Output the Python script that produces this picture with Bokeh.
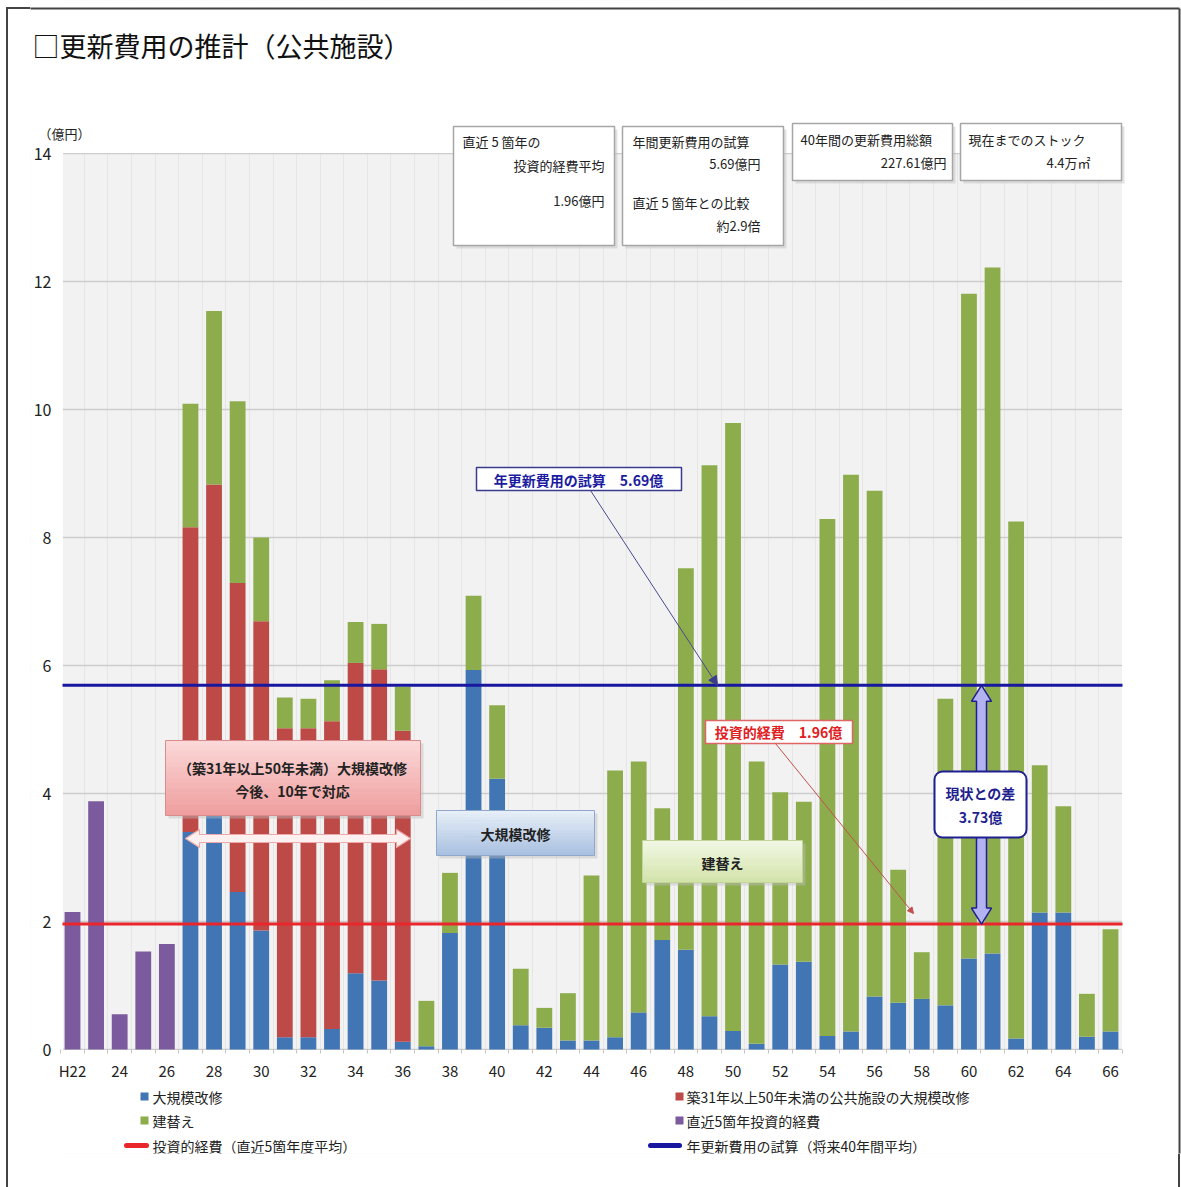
from bokeh.plotting import figure
from bokeh.models import ColumnDataSource, FixedTicker, Label, Arrow, NormalHead
from bokeh.embed import file_html
from bokeh.resources import INLINE

FONT = "Noto Sans CJK JP"

# ---- data (億円) -------------------------------------------------------
# 平成22年度〜66年度
years = list(range(22, 67))
tick_years = list(range(22, 67, 2))
tick_overrides = {22: "H22"}
y_ticks = list(range(0, 15, 2))

# 大規模改修
major_repair = [0, 0, 0, 0, 0,
                3.40, 3.75, 2.46, 1.86, 0.19, 0.19, 0.32, 1.19, 1.08, 0.12,
                0.05, 1.82, 5.93, 4.23, 0.38, 0.34, 0.14, 0.14, 0.19, 0.58,
                1.71, 1.56, 0.52, 0.29, 0.09, 1.33, 1.37, 0.21, 0.28, 0.83,
                0.73, 0.79, 0.69, 1.42, 1.50, 0.17, 2.14, 2.14, 0.20, 0.28]
# 築31年以上50年未満の公共施設の大規模改修
aging_repair = [0, 0, 0, 0, 0,
                4.76, 5.08, 4.83, 4.83, 4.83, 4.83, 4.81, 4.85, 4.86, 4.86,
                0, 0, 0, 0, 0, 0, 0, 0, 0, 0,
                0, 0, 0, 0, 0, 0, 0, 0, 0, 0,
                0, 0, 0, 0, 0, 0, 0, 0, 0, 0]
# 建替え
rebuild = [0, 0, 0, 0, 0,
           1.93, 2.71, 2.84, 1.31, 0.48, 0.46, 0.64, 0.64, 0.71, 0.69,
           0.71, 0.94, 1.16, 1.15, 0.88, 0.31, 0.74, 2.58, 4.17, 3.92,
           2.06, 5.96, 8.61, 9.50, 4.41, 2.69, 2.50, 8.08, 8.70, 7.90,
           2.08, 0.73, 4.79, 10.39, 10.72, 8.08, 2.30, 1.66, 0.67, 1.60]
# 直近5箇年投資的経費
recent_invest = [2.15, 3.88, 0.55, 1.53, 1.65] + [0] * 40

recent_avg = 1.96         # 投資的経費（直近5箇年度平均）
annual_estimate = 5.69    # 年更新費用の試算（将来40年間平均）
total_40y = 227.61        # 40年間の更新費用総額
stock_area = "4.4万㎡"     # 現在までのストック

series_labels = ["大規模改修", "築31年以上50年未満の公共施設の大規模改修",
                 "建替え", "直近5箇年投資的経費"]
line_labels = ["投資的経費（直近5箇年度平均）", "年更新費用の試算（将来40年間平均）"]

# ---- colours -----------------------------------------------------------
BLUE = "#4175b4"
RED = "#be4a47"
GREEN = "#8dac4c"
PURPLE = "#7b5b9e"
LINE_RED = "#e8262b"
LINE_BLUE = "#1717a0"
NAVY = "#1f1f8f"
FRAME_LINE = "#444444"

# ---- page geometry -----------------------------------------------------
# The plot frame covers almost the whole page; the grey chart area sits
# inside it, so titles, legend and callouts can all be drawn in data space.
W, H = 1181, 1187
FL, FR, FT, FB = 30, 1181, 0, 1153        # frame edges on the page
ZERO_PY = 1049                            # page row of value 0
FIRST_PX, LAST_PX = 72, 1110              # page columns of H22 and H66
PX_PER_YEAR = (LAST_PX - FIRST_PX) / (years[-1] - years[0])
PX_PER_Y = 64.0                           # pixels per 1億円
AREA_L, AREA_R = 62, 1122                 # grey chart area, page columns


def sx(px):
    """page column -> data x"""
    return years[0] + (px - FIRST_PX) / PX_PER_YEAR


def sy(py):
    """page row -> data y"""
    return (ZERO_PY - py) / PX_PER_Y


def py_of(v):
    return ZERO_PY - v * PX_PER_Y


X0, X1 = sx(FL), sx(FR)
Y0, Y1 = sy(FB), sy(FT)

# thin page border (the part outside the frame comes from the page background)
border_css = {
    "background-color": "white",
    "background-image": ("linear-gradient(#444444,#444444), linear-gradient(#444444,#444444), "
                         "linear-gradient(#444444,#444444)"),
    "background-size": "2px 1200px, 1174px 2px, 2px 1200px",
    "background-position": "6px 7px, 6px 7px, 1178px 7px",
    "background-repeat": "no-repeat",
}

p = figure(width=W, height=H, x_range=(X0, X1), y_range=(Y0, Y1), title=None,
           output_backend="svg", toolbar_location=None,
           min_border_left=FL, min_border_right=W - FR,
           min_border_top=FT, min_border_bottom=H - FB,
           background_fill_color="#f2f2f2", border_fill_color=None,
           outline_line_color=None, styles=border_css)

# grid
p.ygrid.ticker = FixedTicker(ticks=y_ticks)
p.ygrid.grid_line_color = "#cdcdcd"
p.ygrid.grid_line_width = 1.5
p.xgrid.ticker = FixedTicker(ticks=[y + 0.5 for y in range(21, 67)])
p.xgrid.grid_line_color = "#e6e6e6"
p.xgrid.grid_line_width = 1

# white surround of the grey chart area; the four masks overlap each other
# and overshoot the frame so no seams are left
a_l, a_r = sx(AREA_L), sx(AREA_R)
ex = 6.0 / PX_PER_YEAR
ey = 6.0 / PX_PER_Y
eps = 1.0 / PX_PER_Y
p.quad(left=[X0 - ex, a_r, X0 - ex, X0 - ex],
       right=[a_l, X1 + ex, X1 + ex, X1 + ex],
       bottom=[Y0 - ey, Y0 - ey, 14 + eps, Y0 - ey],
       top=[Y1 + ey, Y1 + ey, Y1 + ey, -eps],
       fill_color="white", line_color="white", line_width=1)

# axes pinned to the chart area
p.yaxis.fixed_location = a_l
p.yaxis.ticker = FixedTicker(ticks=y_ticks)
p.yaxis.axis_line_color = None
p.yaxis.major_tick_line_color = None
p.yaxis.minor_tick_line_color = None
p.yaxis.major_label_text_font = FONT
p.yaxis.major_label_text_font_size = "16px"
p.yaxis.major_label_text_color = "#222222"
p.yaxis.major_label_standoff = 5

p.xaxis.fixed_location = 0
p.xaxis.ticker = FixedTicker(ticks=tick_years,
                             minor_ticks=[y + 0.5 for y in range(21, 67)])
p.xaxis.major_label_overrides = tick_overrides
p.xaxis.axis_line_color = None
p.xaxis.major_tick_line_color = None
p.xaxis.minor_tick_line_color = "#c4c4c4"
p.xaxis.minor_tick_in = 0
p.xaxis.minor_tick_out = 4
p.xaxis.major_label_text_font = FONT
p.xaxis.major_label_text_font_size = "15px"
p.xaxis.major_label_text_color = "#222222"
p.xaxis.major_label_standoff = 4

# ---- stacked bars --------------------------------------------------------
src = ColumnDataSource(dict(year=years, major=major_repair, aging=aging_repair,
                            rebuild=rebuild, recent=recent_invest))
p.vbar_stack(["major", "aging", "rebuild", "recent"], x="year", width=0.67,
             source=src, fill_color=[BLUE, RED, GREEN, PURPLE], line_color=None)

# reference lines across the chart area
p.segment(x0=a_l, x1=a_r, y0=recent_avg, y1=recent_avg, line_color=LINE_RED, line_width=3)
p.segment(x0=a_l, x1=a_r, y0=annual_estimate, y1=annual_estimate,
          line_color=LINE_BLUE, line_width=3)


# ---- helpers -------------------------------------------------------------
def text_px(px, py, s, size=13, align="left", color="#222222", bold=False):
    p.add_layout(Label(x=sx(px), y=sy(py), text=s, text_font=FONT,
                       text_font_size=f"{size}px", text_align=align,
                       text_baseline="middle", text_color=color,
                       text_font_style="bold" if bold else "normal"))


def mix(c1, c2, t):
    a = [int(c1[i:i + 2], 16) for i in (1, 3, 5)]
    b = [int(c2[i:i + 2], 16) for i in (1, 3, 5)]
    return "#%02x%02x%02x" % tuple(round(a[k] + (b[k] - a[k]) * t) for k in range(3))


def panel_px(l, r, t, b, fill="white", border="#a6a6a6", width=1.5, shadow=True,
             top_color=None, bottom_color=None, steps=14):
    if shadow:
        p.quad(left=sx(l + 3), right=sx(r + 3), top=sy(t + 3), bottom=sy(b + 3),
               fill_color="#bdbdbd", fill_alpha=0.45, line_color=None)
    if top_color is None:
        p.quad(left=sx(l), right=sx(r), top=sy(t), bottom=sy(b),
               fill_color=fill, line_color=None)
    else:
        h = (b - t) / steps
        tops = [t + i * h for i in range(steps)]
        p.quad(left=sx(l), right=sx(r), top=[sy(v) for v in tops],
               bottom=[sy(min(v + h * 1.2, b)) for v in tops],
               fill_color=[mix(top_color, bottom_color, i / (steps - 1)) for i in range(steps)],
               line_color=None)
    p.quad(left=sx(l), right=sx(r), top=sy(t), bottom=sy(b),
           fill_color=None, line_color=border, line_width=width)


def patch_px(pts, fill, line, width=1.2):
    p.patch([sx(x) for x, _ in pts], [sy(y) for _, y in pts],
            fill_color=fill, line_color=line, line_width=width)


# ---- info boxes along the top ----------------------------------------------
panel_px(453, 614, 126, 245)
text_px(462, 141, "直近 5 箇年の")
text_px(604, 165, "投資的経費平均", align="right")
text_px(604, 200, f"{recent_avg:.2f}億円", align="right")

panel_px(622, 783, 126, 245)
text_px(632, 141, "年間更新費用の試算")
text_px(760, 163, f"{annual_estimate:.2f}億円", align="right")
text_px(632, 202, "直近 5 箇年との比較")
text_px(760, 225, f"約{annual_estimate / recent_avg:.1f}倍", align="right")

panel_px(792, 952, 123, 180)
text_px(800, 139, "40年間の更新費用総額")
text_px(946, 162, f"{total_40y:.2f}億円", align="right")

panel_px(960, 1121, 123, 180)
text_px(968, 139, "現在までのストック")
text_px(1090, 162, stock_area, align="right")

# ---- callouts inside the chart --------------------------------------------------
panel_px(165, 420, 740, 815, border="#d98c8c", width=1,
         top_color="#fbd7d7", bottom_color="#ef9f9f")
text_px(292, 767, "（築31年以上50年未満）大規模改修", size=14, align="center", bold=True)
text_px(292, 790, "今後、10年で対応", size=14, align="center", bold=True)

# horizontal double arrow spanning the ten-year window
ay, l_end, r_end = 838, 185, 410
hs, hh, hl = 4, 9, 14
patch_px([(l_end, ay), (l_end + hl, ay - hh), (l_end + hl, ay - hs),
          (r_end - hl, ay - hs), (r_end - hl, ay - hh), (r_end, ay),
          (r_end - hl, ay + hh), (r_end - hl, ay + hs), (l_end + hl, ay + hs),
          (l_end + hl, ay + hh)], fill="#fdf0f0", line="#eeaaaa")

panel_px(436, 594, 810, 855, border="#8fa8cc", width=1,
         top_color="#e6eef8", bottom_color="#a9c1e0")
text_px(515, 833, "大規模改修", size=14, align="center", bold=True)

panel_px(642, 802, 840, 882, border="#c2d69a", width=1,
         top_color="#f1f7e3", bottom_color="#d3e4ab")
text_px(722, 862, "建替え", size=14, align="center", bold=True)

# 年更新費用 callout
panel_px(476, 681, 467, 490, border="#3a3a8f", width=1.5, shadow=False)
text_px(578, 479, f"年更新費用の試算　{annual_estimate:.2f}億", size=14,
        align="center", color="#1c1ca0", bold=True)
p.add_layout(Arrow(end=NormalHead(size=9, fill_color="#3c3c8c", line_color="#3c3c8c"),
                   x_start=sx(590), y_start=sy(490), x_end=sx(717), y_end=annual_estimate,
                   line_color="#4a4a8f", line_width=1))

# 投資的経費 callout
panel_px(705, 852, 720, 743, border="#e06666", width=1.5, shadow=False)
text_px(778, 731, f"投資的経費　{recent_avg:.2f}億", size=14,
        align="center", color="#e0201f", bold=True)
p.add_layout(Arrow(end=NormalHead(size=6, fill_color="#c0504d", line_color="#c0504d"),
                   x_start=sx(775), y_start=sy(743), x_end=sx(913), y_end=sy(913),
                   line_color="#c0504d", line_width=1))

# vertical double arrow between the two reference lines
vx = 981
top_py, bot_py = py_of(annual_estimate), py_of(recent_avg)
hs, hh, hl = 5, 10, 16
patch_px([(vx, top_py), (vx + hh, top_py + hl), (vx + hs, top_py + hl),
          (vx + hs, bot_py - hl), (vx + hh, bot_py - hl), (vx, bot_py),
          (vx - hh, bot_py - hl), (vx - hs, bot_py - hl), (vx - hs, top_py + hl),
          (vx - hh, top_py + hl)], fill="#b3b3f2", line=NAVY, width=1.5)

p.add_layout(Label(x=sx(980), y=sy(804),
                   text=f"現状との差\n{annual_estimate - recent_avg:.2f}億",
                   text_font=FONT, text_font_size="14px", text_font_style="bold",
                   text_align="center", text_baseline="middle", text_color=NAVY,
                   background_fill_color="white", border_line_color=NAVY,
                   border_line_width=2, border_radius=8, padding=11))

# ---- title, unit, legend, page border ---------------------------------------------
text_px(32, 45, "□更新費用の推計（公共施設）", size=27, color="#111111")
text_px(38, 133, "（億円）", size=13)

legend_rows = [1096, 1120, 1145]
legend_cols = [(140, 152), (675, 686)]
swatches = [[(BLUE, series_labels[0]), (GREEN, series_labels[2])],
            [(RED, series_labels[1]), (PURPLE, series_labels[3])]]
for (bx, tx), items in zip(legend_cols, swatches):
    for row, (col, lab) in zip(legend_rows, items):
        p.quad(left=sx(bx), right=sx(bx + 8), top=sy(row - 4), bottom=sy(row + 4),
               fill_color=col, line_color=None)
        text_px(tx, row, lab, size=14)

for (x_a, x_b, tx), col, lab in zip([(126, 146, 152), (650, 679, 686)],
                                    [LINE_RED, LINE_BLUE], line_labels):
    p.segment(x0=sx(x_a), x1=sx(x_b), y0=sy(legend_rows[2]), y1=sy(legend_rows[2]),
              line_color=col, line_width=5, line_cap="round")
    text_px(tx, legend_rows[2], lab, size=14)

# border parts that fall inside the frame
p.segment(x0=[sx(6), sx(1179)], x1=[sx(1179), sx(1179)],
          y0=[sy(8), sy(8)], y1=[sy(8), Y0 - ey], line_color=FRAME_LINE, line_width=2)

open("out.html", "w").write(file_html(p, INLINE))
